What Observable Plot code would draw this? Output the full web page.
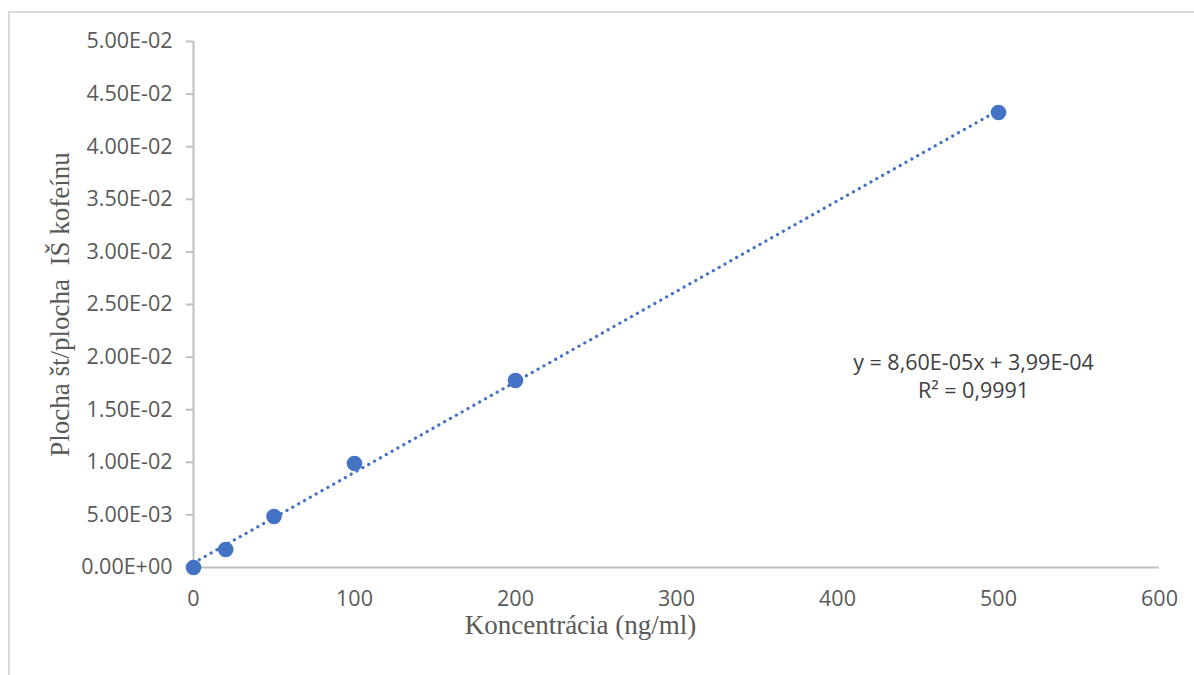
<!DOCTYPE html>
<html>
<head>
<meta charset="utf-8">
<script src="https://cdn.jsdelivr.net/npm/d3@7"></script>
<script src="https://cdn.jsdelivr.net/npm/@observablehq/plot@0.6"></script>
<style>
  html, body { margin: 0; padding: 0; background: #fff; overflow: hidden; }
  #frame { position: absolute; left: 8px; top: 11px; width: 1300px; height: 700px;
           border-top: 2px solid #d9d9d9; border-left: 2px solid #d9d9d9; }
  #chart { position: absolute; left: 0; top: 0; }
</style>
</head>
<body>
<div id="frame"></div>
<div id="chart"></div>
<script>
const concentration = [0, 20, 50, 100, 200, 500];
const ratio = [0.0000, 0.00171, 0.00485, 0.00989, 0.01778, 0.04325];
const xTicks = [0, 100, 200, 300, 400, 500, 600];
const yTicks = [0, 0.005, 0.01, 0.015, 0.02, 0.025, 0.03, 0.035, 0.04, 0.045, 0.05];
const xTitle = "Koncentrácia (ng/ml)";
const yTitle = "Plocha št/plocha  IŠ kofeínu";
const equationText = "y = 8,60E-05x + 3,99E-04\nR² = 0,9991";

const data = concentration.map((c, i) => ({x: c, y: ratio[i]}));
const fmt = d => d.toExponential(2).toUpperCase().replace(/E([+-])(\d)$/, "E$10$2");

const blue = "#4472C4";
const sans = "'Open Sans', 'Noto Sans', sans-serif";
const serif = "'Liberation Serif', 'DejaVu Serif', serif";

const plot = Plot.plot({
  width: 1194,
  height: 675,
  marginLeft: 193,
  marginRight: 35,
  marginTop: 41,
  marginBottom: 108,
  style: {fontFamily: sans, fontSize: "21.5px", color: "#595959", background: "transparent"},
  x: {domain: [0, 600], ticks: xTicks},
  y: {domain: [0, 0.05], ticks: yTicks},
  marks: [
    Plot.axisY({ticks: yTicks, tickFormat: fmt, tickSize: 7, tickPadding: 14, label: null, stroke: "#bfbfbf", strokeWidth: 2, strokeOpacity: 1, fill: "#595959", fontSize: 21.5, fontFamily: sans}),
    Plot.axisX({ticks: xTicks, tickFormat: d => String(d), tickSize: 0, tickPadding: 23, label: null, fill: "#595959", fontSize: 21.5, fontFamily: sans}),
    Plot.ruleX([0], {stroke: "#bfbfbf", strokeWidth: 2}),
    Plot.ruleY([0], {stroke: "#bfbfbf", strokeWidth: 2}),
    Plot.linearRegressionY(data, {x: "x", y: "y", ci: 0, stroke: blue, strokeWidth: 3.2, strokeDasharray: "0.1 6.6", strokeLinecap: "round"}),
    Plot.dot(data, {x: "x", y: "y", r: 7.8, fill: blue, stroke: null}),
    Plot.text([equationText], {frameAnchor: "top-left", dx: 780, dy: 334, textAnchor: "middle", lineAnchor: "middle", lineHeight: 1.3, fontSize: 21.5, fill: "#404040", fontFamily: sans}),
    Plot.text([xTitle], {frameAnchor: "bottom", textAnchor: "middle", dx: -96, dy: 58, lineAnchor: "middle", fontSize: 27, fill: "#595959", fontFamily: serif}),
    Plot.text([yTitle], {frameAnchor: "left", textAnchor: "middle", dx: -133, rotate: -90, lineAnchor: "middle", fontSize: 27, fill: "#595959", fontFamily: serif})
  ]
});
document.getElementById("chart").appendChild(plot);
</script>
</body>
</html>
